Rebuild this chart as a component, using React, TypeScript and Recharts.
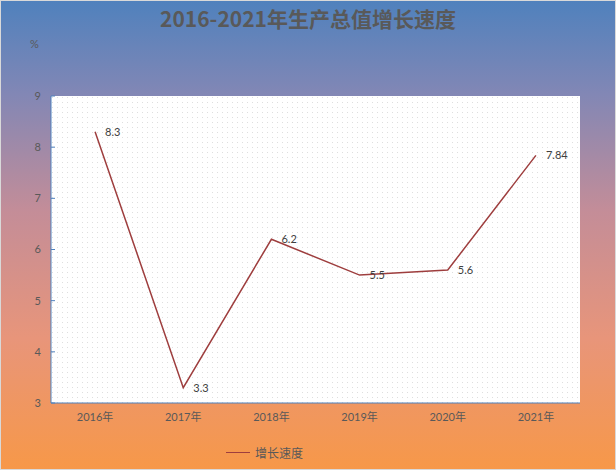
import React from 'react';
import { LineChart, Line, XAxis, YAxis, CartesianGrid, LabelList, Legend } from 'recharts';

const categories = ['2016年', '2017年', '2018年', '2019年', '2020年', '2021年'];
const growth = [8.3, 3.3, 6.2, 5.5, 5.6, 7.84];
const yTicks = [3, 4, 5, 6, 7, 8, 9];
const boundaryTicks = [0, 1, 2, 3, 4, 5, 6];
const seriesName = '增长速度';
const title = '2016-2021年生产总值增长速度';

const data = categories.map((c, i) => ({ year: c, value: growth[i] }));

const FONT = "Lato, 'Noto Sans CJK SC', sans-serif";
const LINE_COLOR = '#9e3e3e';

const LegendContent = (props: any) => {
  const item = (props.payload && props.payload[0]) || { value: seriesName, color: LINE_COLOR };
  return (
    <div style={{ display: 'flex', alignItems: 'center', fontFamily: FONT, fontSize: 12, color: '#595959' }}>
      <span style={{ display: 'inline-block', width: 24, height: 0, borderTop: `1.5px solid ${item.color}`, marginRight: 5 }} />
      <span>{item.value}</span>
    </div>
  );
};

export default function App() {
  return (
    <div
      style={{
        position: 'absolute',
        left: 0,
        top: 0,
        width: 616,
        height: 470,
        background:
          'linear-gradient(to bottom, #4f81bd 0%, #8287b5 20%, #c48d98 45%, #e8957a 72%, #f79848 100%)',
        boxShadow: 'inset 0 0 0 1px #d9d9d9',
        overflow: 'hidden',
      }}
    >
      <div
        style={{
          position: 'absolute',
          left: 0,
          top: 5,
          width: 616,
          textAlign: 'center',
          fontFamily: "'Noto Sans CJK SC', sans-serif",
          fontWeight: 700,
          fontSize: 21,
          lineHeight: '26px',
          color: '#595959',
        }}
      >
        {title}
      </div>
      <div
        style={{
          position: 'absolute',
          left: 30,
          top: 37,
          fontFamily: FONT,
          fontSize: 11,
          color: '#595959',
        }}
      >
        %
      </div>
      <div style={{ position: 'absolute', left: 0, top: 0 }}>
        <LineChart width={616} height={470} data={data} margin={{ top: 96, right: 36, left: 0, bottom: 37 }}>
          <defs>
            <pattern id="dots" width="5" height="5" patternUnits="userSpaceOnUse">
              <rect width="5" height="5" fill="#ffffff" />
              <rect x="2" y="2" width="1" height="1" fill="#dedede" />
            </pattern>
          </defs>
          <CartesianGrid horizontal={false} vertical={false} fill="url(#dots)" fillOpacity={1} />
          <XAxis
            dataKey="year"
            scale="band"
            height={30}
            tickLine={false}
            tickSize={6}
            tickMargin={4}
            axisLine={{ stroke: '#4f81bd', strokeWidth: 1 }}
            tick={{ fontSize: 11, fill: '#595959', fontFamily: FONT }}
            interval={0}
          />
          <XAxis
            xAxisId="bound"
            type="number"
            domain={[0, 6]}
            ticks={boundaryTicks}
            interval={0}
            allowDataOverflow
            mirror
            height={1}
            tick={false}
            tickSize={5}
            axisLine={false}
            tickLine={{ stroke: '#4f81bd', strokeWidth: 1 }}
          />
          <YAxis
            width={51}
            domain={[3, 9]}
            ticks={yTicks}
            interval={0}
            tickSize={-4}
            tickMargin={14}
            axisLine={{ stroke: '#4f81bd', strokeWidth: 1 }}
            tickLine={{ stroke: '#4f81bd', strokeWidth: 1 }}
            tick={{ fontSize: 11, fill: '#595959', fontFamily: FONT }}
          />
          <Legend
            verticalAlign="middle"
            align="center"
            layout="horizontal"
            wrapperStyle={{ position: 'absolute', left: 226, top: 444, width: 'auto' }}
            content={<LegendContent />}
          />
          <Line
            type="linear"
            dataKey="value"
            name={seriesName}
            stroke={LINE_COLOR}
            strokeWidth={1.5}
            dot={false}
            activeDot={false}
            isAnimationActive={false}
          >
            <LabelList dataKey="value" position="right" offset={10} fontSize={11} fill="#404040" fontFamily={FONT} />
          </Line>
        </LineChart>
      </div>
    </div>
  );
}
